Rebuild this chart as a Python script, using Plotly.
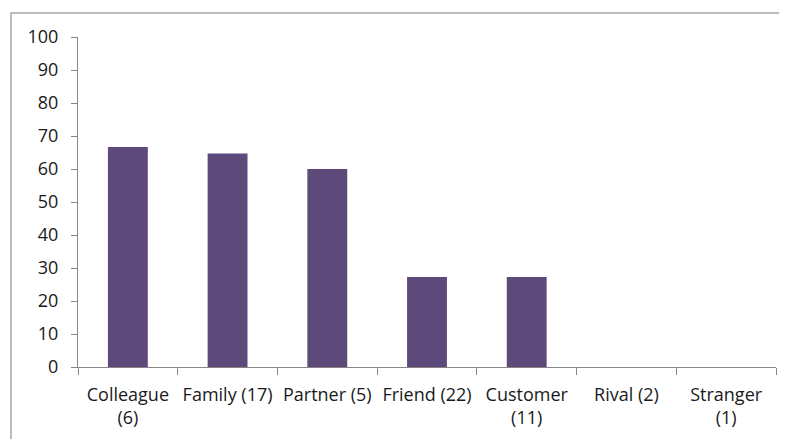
import plotly.graph_objs as go

# share of each relationship type (in %), with counts in the labels
categories = ['Colleague<br>(6)', 'Family (17)', 'Partner (5)', 'Friend (22)',
              'Customer<br>(11)', 'Rival (2)', 'Stranger<br>(1)']
values = [66.7, 64.7, 60.0, 27.3, 27.3, 0, 0]
y_ticks = list(range(0, 101, 10))

# page body adds an 8px margin, so the figure is a bit smaller than the window
fig = go.Figure(
    data=[
        go.Bar(
            x=categories,
            y=values,
            marker={'color': '#5E4A7A', 'line': {'width': 0}},
        )
    ],
    layout=go.Layout(
        width=779,
        height=431,
        margin={'l': 70, 'r': 11, 't': 29, 'b': 72},
        paper_bgcolor='white',
        plot_bgcolor='white',
        font={'family': 'Open Sans, sans-serif', 'size': 18, 'color': '#1A1A1A'},
        bargap=0.6,
        showlegend=False,
        xaxis={
            'showline': True, 'linecolor': '#868686', 'linewidth': 1,
            'ticks': 'outside', 'tickson': 'boundaries', 'ticklen': 7,
            'tickcolor': '#868686', 'showgrid': False,
            'ticklabelstandoff': 11,
        },
        yaxis={
            'range': [0, 100], 'tickvals': y_ticks,
            'showline': True, 'linecolor': '#868686', 'linewidth': 1,
            'ticks': 'outside', 'ticklen': 6, 'tickcolor': '#868686',
            'showgrid': False, 'zeroline': False,
            'ticklabelstandoff': 9,
        },
        shapes=[{
            'type': 'rect', 'xref': 'paper', 'yref': 'paper',
            'x0': -0.096, 'x1': 1.05, 'y0': -0.3, 'y1': 1.0727,
            'line': {'color': '#A6A6A6', 'width': 1.5},
        }],
    ),
)

fig.write_html('out.html')
